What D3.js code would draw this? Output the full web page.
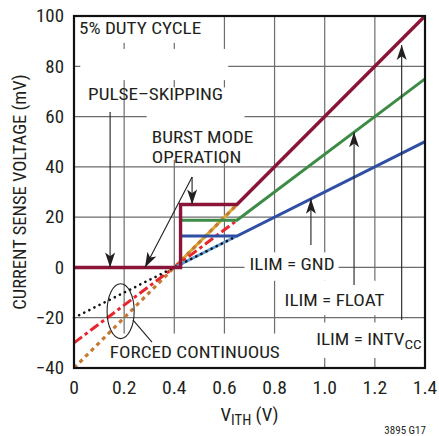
<!DOCTYPE html>
<html><head><meta charset="utf-8">
<script src="https://cdn.jsdelivr.net/npm/d3@7/dist/d3.min.js"></script>
<style>
html,body{margin:0;padding:0;background:#fff;}
svg{display:block;}
text{font-family:"Liberation Sans Narrow","Arial Narrow","Roboto Condensed",sans-serif;fill:#231f20;}
</style></head>
<body>
<script>
// ---- data ----
const xTicks = [0, 0.2, 0.4, 0.6, 0.8, 1.0, 1.2, 1.4];
const yTicks = [-40, -20, 0, 20, 40, 60, 80, 100];
const xTickLabels = ["0", "0.2", "0.4", "0.6", "0.8", "1.0", "1.2", "1.4"];
const yTickLabels = ["\u221240", "\u221220", "0", "20", "40", "60", "80", "100"];
// Burst mode (solid) curves: [V_ITH, mV]
const ilimIntvcc = [[0, 0], [0.425, 0], [0.425, 25], [0.65, 25], [1.4, 100]];
const ilimFloat = [[0.425, 18.75], [0.65, 18.75], [1.4, 75]];
const ilimGnd = [[0.425, 12.5], [0.65, 12.5], [1.4, 50]];
// Forced continuous curves
const fcIntvccBase = [[0.4, 0], [0.65, 25]];
const fcIntvcc = [[0, -40], [0.65, 25]];
const fcFloat = [[0, -30], [0.65, 18.75]];
const fcGndBase = [[0.4, 0], [0.65, 12.5]];
const fcGnd = [[0, -20], [0.65, 12.5]];

const W = 439, H = 436;
const m = {left: 74, top: 16, right: 14, bottom: 68};
const pw = W - m.left - m.right, ph = H - m.top - m.bottom;
const x = d3.scaleLinear().domain([0, 1.4]).range([m.left, m.left + pw]);
const y = d3.scaleLinear().domain([-40, 100]).range([m.top + ph, m.top]);

const svg = d3.select("body").append("svg").attr("width", W).attr("height", H);

// grid
const grid = svg.append("g");
grid.selectAll("line.v").data(xTicks.slice(1, -1)).join("line")
  .attr("x1", d => x(d)).attr("x2", d => x(d)).attr("y1", y(100)).attr("y2", y(-40))
  .attr("stroke", "#6d6d6d").attr("stroke-width", 1.2);
grid.selectAll("line.h").data(yTicks.slice(1, -1)).join("line")
  .attr("x1", x(0)).attr("x2", x(1.4)).attr("y1", d => y(d)).attr("y2", d => y(d))
  .attr("stroke", "#6d6d6d").attr("stroke-width", 1.2);

// label background boxes (data units: x0,x1,y0,y1)
const boxes = [
  [0, 0.55, 100, 89.3],
  [0.025, 0.615, 86.9, 74.5],
  [0.29, 0.68, 71.6, 42.8],
  [0.68, 1.055, 6, -5.3],
  [0.82, 1.25, -5.3, -19.0],
  [0.94, 1.385, -21.9, -36],
  [0.125, 0.83, -26.3, -40]
];
svg.append("g").selectAll("rect").data(boxes).join("rect")
  .attr("x", d => x(d[0])).attr("width", d => x(d[1]) - x(d[0]))
  .attr("y", d => y(d[2])).attr("height", d => y(d[3]) - y(d[2]))
  .attr("fill", "#fff");

const line = d3.line().x(d => x(d[0])).y(d => y(d[1]));
function path(data, color, width, dash, cap) {
  svg.append("path").datum(data).attr("d", line).attr("fill", "none")
    .attr("stroke", color).attr("stroke-width", width)
    .attr("stroke-dasharray", dash || null)
    .attr("stroke-linecap", cap || "butt").attr("stroke-linejoin", "miter");
}

// forced continuous
path(fcIntvccBase, "#d9aa2f", 3);
path(fcIntvcc, "#c47a33", 3.2, "4,4");
path(fcFloat, "#e8262d", 3, "10,3.5,3.5,3.5");
path(fcGndBase, "#5b9bd5", 3);
path(fcGnd, "#111", 2.6, "0.1,5.6", "round");

// burst mode
path(ilimGnd, "#2e4fa3", 3);
path(ilimFloat, "#3d8b45", 3);
path(ilimIntvcc, "#8b1538", 3.4);

// frame
svg.append("rect").attr("x", x(0)).attr("y", y(100)).attr("width", pw).attr("height", ph)
  .attr("fill", "none").attr("stroke", "#111").attr("stroke-width", 2.2);

// text helper with horizontal stretch (reference font is a wide condensed face)
function stext(px, py, t, size, sx, anchor) {
  const g = svg.append("g").attr("transform", `translate(${px},${py}) scale(${sx},1)`);
  return g.append("text").attr("font-size", size).attr("text-anchor", anchor || "start").text(t);
}

// tick labels
yTicks.forEach((d, i) => stext(m.left - 10, y(d) + 6.3, yTickLabels[i], 17.5, 1.08, "end"));
xTicks.forEach((d, i) => stext(x(d), y(-40) + 26, xTickLabels[i], 17.5, 1.12, "middle"));

// axis titles
svg.append("text").attr("transform", `translate(26,${(y(100) + y(-40)) / 2}) rotate(-90)`)
  .attr("text-anchor", "middle").attr("font-size", 18.5)
  .text("CURRENT SENSE VOLTAGE (mV)");
const xt = stext(x(0.7), 421, "", 18, 1.05, "middle");
xt.append("tspan").text("V");
xt.append("tspan").attr("font-size", 14).attr("dy", 4).text("ITH");
xt.append("tspan").attr("dy", -4).text(" (V)");

stext(426, 434, "3895 G17", 10.5, 1.05, "end");

// annotation labels
const lab = (t, vx, vy) => stext(x(vx), y(vy), t, 16.5, 1.16, "start");
lab("5% DUTY CYCLE", 0.02, 92.8);
lab("PULSE\u2013SKIPPING", 0.056, 66.6);
lab("BURST MODE", 0.31, 49.4);
lab("OPERATION", 0.31, 41.4);
lab("ILIM = GND", 0.7, -1);
lab("ILIM = FLOAT", 0.84, -15.3);
lab("FORCED CONTINUOUS", 0.143, -35.9);
const iv = lab("ILIM = INTV", 0.966, -30.9);
iv.append("tspan").attr("font-size", 13).attr("dy", 4).text("CC");

// arrows
const arrows = [
  [0.144, 61.8, 0.144, 0],
  [0.471, 36.0, 0.283, 0],
  [0.471, 36.0, 0.471, 25],
  [0.945, 8.9, 0.945, 27.3],
  [1.117, -7.0, 1.117, 53.8],
  [1.307, -20.9, 1.307, 88.5]
];
const ag = svg.append("g");
arrows.forEach(a => {
  const x1 = x(a[0]), y1 = y(a[1]), x2 = x(a[2]), y2 = y(a[3]);
  ag.append("line").attr("x1", x1).attr("y1", y1).attr("x2", x2).attr("y2", y2)
    .attr("stroke", "#231f20").attr("stroke-width", 1.1);
  const ang = Math.atan2(y2 - y1, x2 - x1);
  const L = 15, hw = 5;
  const bx = x2 - L * Math.cos(ang), by = y2 - L * Math.sin(ang);
  const px = -Math.sin(ang) * hw, py = Math.cos(ang) * hw;
  const ix = x2 - L * 0.75 * Math.cos(ang), iy = y2 - L * 0.75 * Math.sin(ang);
  ag.append("path").attr("d", `M${x2},${y2}L${bx + px},${by + py}L${ix},${iy}L${bx - px},${by - py}Z`)
    .attr("fill", "#231f20");
});

// forced continuous ellipse and leader
const ec = [0.186, -17.4], erx = 0.054, ery = 10.9;
svg.append("ellipse").attr("cx", x(ec[0])).attr("cy", y(ec[1]))
  .attr("rx", x(erx) - x(0)).attr("ry", y(0) - y(ery))
  .attr("fill", "none").attr("stroke", "#231f20").attr("stroke-width", 1.1);
svg.append("line").attr("x1", x(0.235)).attr("y1", y(-20.9)).attr("x2", x(0.311)).attr("y2", y(-29.7))
  .attr("stroke", "#231f20").attr("stroke-width", 1.1);
</script>
</body></html>
